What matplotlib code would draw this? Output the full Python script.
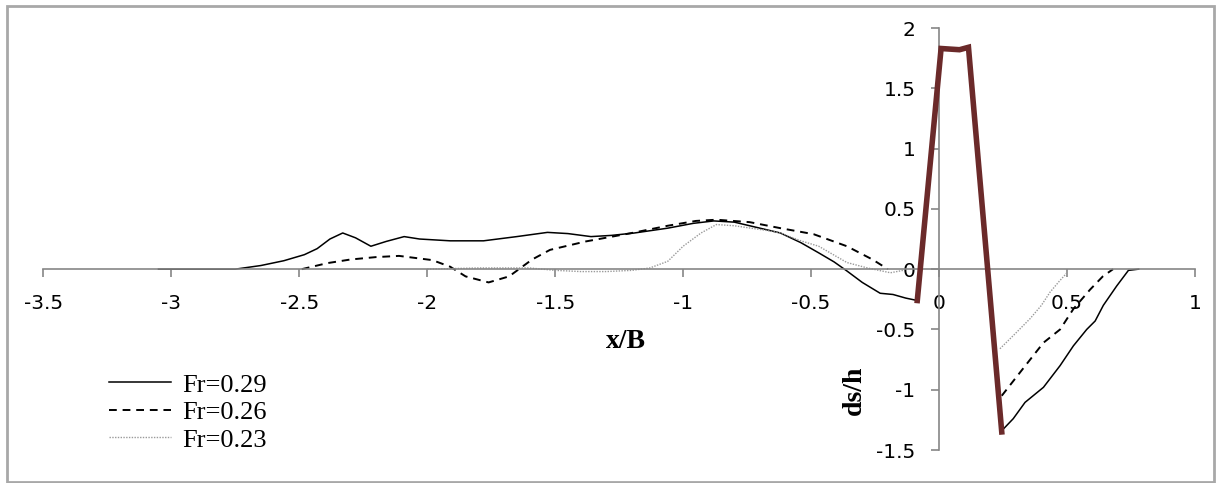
import numpy as np
import matplotlib
matplotlib.use("Agg")
import matplotlib.pyplot as plt
from matplotlib.patches import Rectangle

# scour profile data, ds/h against x/B
x29 = [-3.05, -2.75, -2.65, -2.56, -2.48, -2.43, -2.38, -2.33, -2.28, -2.22, -2.16, -2.09, -2.03,
       -1.91, -1.78, -1.65, -1.53, -1.45, -1.36, -1.28, -1.19, -1.06, -0.96, -0.88, -0.80,
       -0.72, -0.62, -0.54, -0.47, -0.41, -0.36, -0.30, -0.23, -0.18, -0.13, -0.085]
y29 = [0.0, 0.0, 0.03, 0.07, 0.12, 0.17, 0.25, 0.30, 0.26, 0.19, 0.23, 0.27, 0.25,
       0.235, 0.235, 0.27, 0.305, 0.295, 0.27, 0.28, 0.30, 0.34, 0.38, 0.40, 0.39,
       0.35, 0.30, 0.22, 0.135, 0.06, -0.015, -0.11, -0.20, -0.21, -0.24, -0.26]
x29r = [0.245, 0.29, 0.336, 0.408, 0.473, 0.525, 0.577, 0.61, 0.642, 0.694, 0.74, 0.78]
y29r = [-1.34, -1.24, -1.105, -0.98, -0.80, -0.636, -0.50, -0.43, -0.30, -0.14, -0.01, 0.0]

x26 = [-2.49, -2.39, -2.30, -2.20, -2.11, -1.98, -1.91, -1.85, -1.76, -1.68, -1.59, -1.52,
       -1.38, -1.20, -1.06, -0.95, -0.87, -0.74, -0.62, -0.49, -0.36, -0.26, -0.20]
y26 = [0.0, 0.05, 0.08, 0.10, 0.11, 0.075, 0.02, -0.06, -0.11, -0.06, 0.08, 0.16,
       0.23, 0.30, 0.36, 0.40, 0.41, 0.39, 0.34, 0.29, 0.19, 0.08, 0.0]
x26r = [0.245, 0.33, 0.408, 0.473, 0.525, 0.59, 0.64, 0.68]
y26r = [-1.05, -0.82, -0.61, -0.50, -0.33, -0.17, -0.06, 0.0]

x23 = [-2.0, -1.8, -1.6, -1.5, -1.4, -1.3, -1.2, -1.13, -1.06, -1.0, -0.93, -0.87,
       -0.80, -0.67, -0.62, -0.54, -0.47, -0.36, -0.28, -0.19, -0.14]
y23 = [0.0, 0.01, 0.01, -0.01, -0.02, -0.02, -0.01, 0.01, 0.065, 0.19, 0.30, 0.37,
       0.36, 0.32, 0.30, 0.235, 0.19, 0.055, 0.01, -0.03, -0.01]
x23r = [0.238, 0.30, 0.356, 0.40, 0.434, 0.47, 0.50]
y23r = [-0.66, -0.53, -0.41, -0.30, -0.19, -0.10, -0.03]

# pier outline
xp = [-0.085, 0.008, 0.08, 0.115, 0.245]
yp = [-0.26, 1.83, 1.82, 1.84, -1.35]

fig = plt.figure(figsize=(12.16, 4.83), dpi=100)
ax = fig.add_axes([0.0356, 0.0683, 0.9471, 0.8737])

ax.plot(x29, y29, color='black', lw=1.1, label='Fr=0.29')
ax.plot(x29r, y29r, color='black', lw=1.1)
ax.plot(x26, y26, color='black', lw=1.4, ls=(0, (4, 3)), label='Fr=0.26')
ax.plot(x26r, y26r, color='black', lw=1.4, ls=(0, (4, 3)))
ax.plot(x23, y23, color='#9a9a9a', lw=1.0, ls=(0, (1, 1)), label='Fr=0.23')
ax.plot(x23r, y23r, color='#9a9a9a', lw=1.0, ls=(0, (1, 1)))
ax.plot(xp, yp, color='#6b2a2a', lw=4, solid_joinstyle='miter', zorder=5)

ax.set_xlim(-3.5, 1)
ax.set_ylim(-1.5, 2)
ax.set_xticks(np.arange(-3.5, 1.01, 0.5))
ax.set_yticks(np.arange(-1.5, 2.01, 0.5))
ax.set_xticklabels(['-3.5', '-3', '-2.5', '-2', '-1.5', '-1', '-0.5', '0', '0.5', '1'])
ax.set_yticklabels(['-1.5', '-1', '-0.5', '0', '0.5', '1', '1.5', '2'])

ax.spines['left'].set_position(('data', 0))
ax.spines['bottom'].set_position(('data', 0))
ax.spines['top'].set_visible(False)
ax.spines['right'].set_visible(False)
for s in ['left', 'bottom']:
    ax.spines[s].set_color('#868686')
    ax.spines[s].set_linewidth(1.2)
ax.tick_params(axis='x', direction='out', length=6, width=1.2, color='#868686',
               labelsize=14.5, pad=12)
ax.tick_params(axis='y', direction='out', length=6, width=1.2, color='#868686',
               labelsize=14.5, pad=11)
ax.patch.set_visible(False)

fig.text(626 / 1216, 1 - 341 / 483, 'x/B', family='Liberation Serif', weight='bold',
         fontsize=20, ha='center', va='center')
fig.text(854 / 1216, 1 - 390 / 483, 'ds/h', family='Liberation Serif', weight='bold',
         fontsize=20, ha='center', va='center', rotation=90)

leg = ax.legend(loc='upper left', bbox_to_anchor=(96 / 1216, 1 - 360 / 483),
                bbox_transform=fig.transFigure, frameon=False, borderpad=0,
                handlelength=2.35, handletextpad=0.4, labelspacing=0.15,
                prop={'family': 'Liberation Serif', 'size': 19})

fig.patches.append(Rectangle((7 / 1216, 1 / 483), 1207 / 1216, 476 / 483,
                             transform=fig.transFigure, fill=False,
                             edgecolor='#a8a8a8', lw=2))

fig.savefig('out.png', dpi=100)
